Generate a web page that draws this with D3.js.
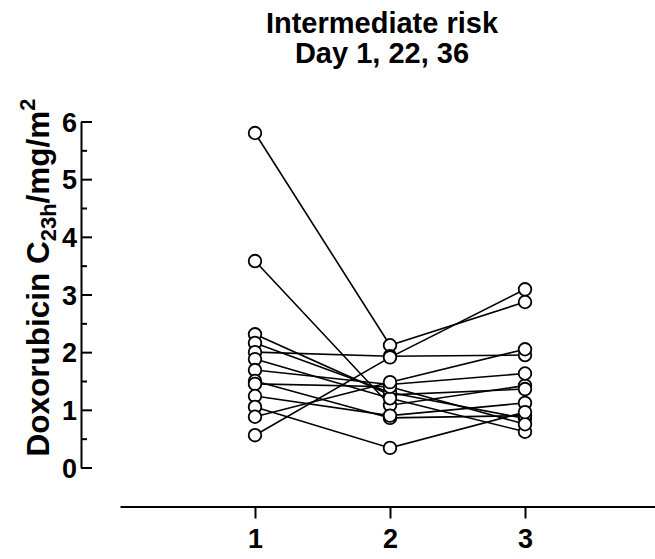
<!DOCTYPE html>
<html>
<head>
<meta charset="utf-8">
<script src="https://cdn.jsdelivr.net/npm/d3@7"></script>
<style>
  html, body { margin: 0; padding: 0; background: #fff; }
  svg { display: block; }
  text { font-family: "Liberation Sans", Arial, Helvetica, sans-serif; font-weight: bold; fill: #000; }
</style>
</head>
<body>
<svg id="chart" width="655" height="559"></svg>
<script>
// Doxorubicin concentration per patient at the three courses (day 1, 22, 36)
const courses = [1, 2, 3];
const courseLabels = ["1", "2", "3"];
const day1Values  = [5.80, 3.58, 2.31, 2.16, 2.00, 1.88, 1.69, 1.50, 1.45, 1.24, 1.05, 0.88, 0.56];
const day22Values = [2.12, 1.08, 1.26, 1.30, 1.93, 1.20, 1.44, 0.86, 1.40, 0.90, 0.34, 1.48, 1.91];
const day36Values = [2.87, 1.42, 1.36, 0.85, 1.95, 0.62, 1.63, 0.90, 0.75, 1.12, 0.96, 2.05, 3.09];
const yMajorTicks = [0, 1, 2, 3, 4, 5, 6];
const yMinorTicks = [0.5, 1.5, 2.5, 3.5, 4.5, 5.5];
const titleLines = ["Intermediate risk", "Day 1, 22, 36"];

const patients = day1Values.map((v, i) => [
  { course: courses[0], value: v },
  { course: courses[1], value: day22Values[i] },
  { course: courses[2], value: day36Values[i] }
]);

const svg = d3.select("#chart");

const x = d3.scaleLinear().domain([0, 4]).range([120, 660]);
const y = d3.scaleLinear().domain([0, 6]).range([467.5, 121.5]);
const yAxisX = 81;
const xAxisY = 506.5;

// Title
svg.append("g").selectAll("text")
  .data(titleLines)
  .join("text")
  .attr("x", 382)
  .attr("y", (d, i) => 33 + i * 30)
  .attr("text-anchor", "middle")
  .style("font-size", "29px")
  .text(d => d);

// Y axis: major ticks with labels, minor ticks between
const yAxis = d3.axisLeft(y)
  .tickValues(yMajorTicks)
  .tickFormat(d3.format("d"))
  .tickSizeInner(-11)
  .tickSizeOuter(0)
  .tickPadding(4);
const gy = svg.append("g").attr("transform", `translate(${yAxisX},0)`).call(yAxis);
gy.select(".domain").attr("stroke", "#000").attr("stroke-width", 2);
gy.selectAll(".tick line").attr("stroke", "#000").attr("stroke-width", 2);
gy.selectAll(".tick text").style("font-size", "27px").style("font-family", null).attr("dy", "0.36em");

const gyMinor = svg.append("g").attr("transform", `translate(${yAxisX},0)`)
  .call(d3.axisLeft(y).tickValues(yMinorTicks).tickFormat("").tickSizeInner(-6).tickSizeOuter(0));
gyMinor.select(".domain").remove();
gyMinor.selectAll(".tick line").attr("stroke", "#000").attr("stroke-width", 2);

// Y axis title with subscript and superscript
const yTitle = svg.append("text")
  .attr("transform", "translate(49,277.5) rotate(-90)")
  .attr("text-anchor", "middle")
  .style("font-size", "31.5px");
yTitle.append("tspan").text("Doxorubicin C");
yTitle.append("tspan").attr("dy", 7).style("font-size", "22px").text("23h");
yTitle.append("tspan").attr("dy", -7).text("/mg/m");
yTitle.append("tspan").attr("dy", -14).style("font-size", "22px").text("2");

// X axis
const xAxis = d3.axisBottom(x)
  .tickValues(courses)
  .tickFormat((d, i) => courseLabels[i])
  .tickSizeInner(12)
  .tickSizeOuter(0)
  .tickPadding(10);
const gx = svg.append("g").attr("transform", `translate(0,${xAxisY})`).call(xAxis);
gx.select(".domain").attr("stroke", "#000").attr("stroke-width", 2);
gx.selectAll(".tick line").attr("stroke", "#000").attr("stroke-width", 2);
gx.selectAll(".tick text").style("font-size", "27px").style("font-family", null);

// Connecting lines per patient
const line = d3.line().x(d => x(d.course)).y(d => y(d.value));
svg.append("g").selectAll("path")
  .data(patients)
  .join("path")
  .attr("d", line)
  .attr("fill", "none")
  .attr("stroke", "#000")
  .attr("stroke-width", 1.6);

// Open circle markers
svg.append("g").selectAll("circle")
  .data(patients.flat())
  .join("circle")
  .attr("cx", d => x(d.course))
  .attr("cy", d => y(d.value))
  .attr("r", 6.3)
  .attr("fill", "#fff")
  .attr("stroke", "#000")
  .attr("stroke-width", 1.8);
</script>
</body>
</html>
